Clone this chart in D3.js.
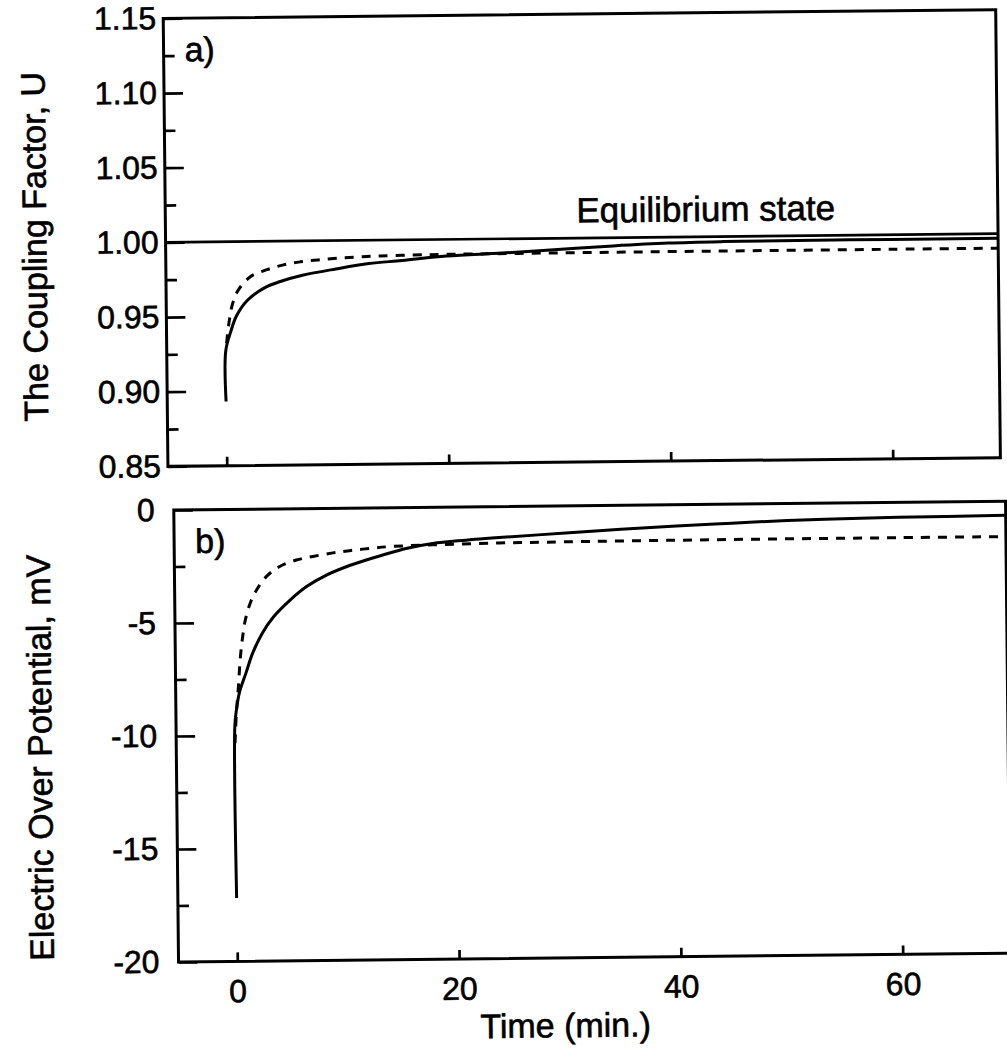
<!DOCTYPE html>
<html>
<head>
<meta charset="utf-8">
<script src="https://cdn.jsdelivr.net/npm/d3@7"></script>
<style>
  html, body { margin: 0; padding: 0; background: #fff; }
  svg { display: block; }
  text { font-family: "Liberation Sans", Arial, Helvetica, sans-serif; fill: #000; stroke: #000; stroke-width: 0.6px; }
</style>
</head>
<body>
<svg id="chart" width="1007" height="1055"></svg>
<script>
// ---- time axis (minutes), shared by both panels ----
const timeDomain = [-5.3, 69.7];
const timeTicks = [0, 20, 40, 60];

// ---- panel a) coupling factor U ----
const couplingDomain = [0.85, 1.15];
const couplingTicks = [0.85, 0.90, 0.95, 1.00, 1.05, 1.10, 1.15];
const couplingMinorTicks = [0.875, 0.925, 0.975, 1.025, 1.075, 1.125];
const equilibriumLevel = 1.0;

const couplingSolidTime = [0, 0.02, 0.5, 1.0, 2.0, 3.6, 5.0, 7.0, 10.0, 13.0, 16.0, 20.0, 25.0, 30.0, 35.0, 40.0, 45.0, 50.0, 60.0, 69.7];
const couplingSolidU    = [0.893, 0.927, 0.940, 0.950, 0.9605, 0.969, 0.973, 0.977, 0.981, 0.9844, 0.9862, 0.9889, 0.9905, 0.9925, 0.9945, 0.996, 0.9966, 0.9968, 0.9969, 0.997];

const couplingDashedTime = [0.1, 0.36, 0.7, 1.2, 2.3, 3.8, 5.3, 6.8, 8.4, 10.2, 12.0, 14.0, 17.0, 20.0, 30.0, 40.0, 50.0, 60.0, 69.7];
const couplingDashedU    = [0.932, 0.947, 0.959, 0.9675, 0.9764, 0.981, 0.9841, 0.986, 0.9872, 0.9882, 0.9889, 0.9894, 0.9898, 0.990, 0.9902, 0.9903, 0.9903, 0.9903, 0.9903];

// ---- panel b) electric over potential, mV ----
const potentialDomain = [-20, 0];
const potentialTicks = [0, -5, -10, -15, -20];
const potentialMinorTicks = [-2.5, -7.5, -12.5, -17.5];

const potentialSolidTime = [0, 0, 0.15, 0.45, 1.05, 1.65, 2.55, 3.6, 5.1, 6.6, 8.4, 10.2, 12.0, 13.5, 15.6, 18.0, 21.0, 24.0, 30.0, 35.0, 40.0, 45.0, 50.0, 55.0, 60.0, 69.7];
const potentialSolidMV   = [-17.2, -9.6, -8.9, -8.1, -7.25, -6.4, -5.5, -4.77, -4.04, -3.45, -2.95, -2.59, -2.3, -2.09, -1.81, -1.6, -1.47, -1.37, -1.2, -1.06, -0.94, -0.84, -0.75, -0.70, -0.66, -0.62];

const potentialDashedTime = [0, 0.15, 0.36, 0.54, 0.75, 1.05, 1.5, 2.1, 3.0, 4.2, 5.7, 7.2, 9.0, 10.5, 12.3, 14.1, 18.0, 24.0, 30.0, 40.0, 50.0, 60.0, 69.7];
const potentialDashedMV   = [-10.35, -9.03, -7.85, -6.67, -5.78, -4.89, -4.16, -3.57, -2.98, -2.55, -2.27, -2.12, -1.97, -1.88, -1.79, -1.72, -1.66, -1.61, -1.59, -1.57, -1.56, -1.56, -1.56];

// ---- text ----
const xTitle = "Time (min.)";
const couplingTitle = "The Coupling Factor, U";
const potentialTitle = "Electric Over Potential, mV";
const equilibriumLabel = "Equilibrium state";
const panelLabels = ["a)", "b)"];

const zip = (ts, vs) => ts.map((t, i) => ({ t, v: vs[i] }));

const svg = d3.select("#chart");
// the whole figure sits with a slight counter-clockwise tilt
const fig = svg.append("g").attr("transform", "rotate(-0.6 585 490)");

const FONT = '"Liberation Sans", Arial, Helvetica, sans-serif';
const LW = 2.7;
const TICK_FONT = 32;
const TITLE_FONT = 34;

// scales
const xA = d3.scaleLinear().domain(timeDomain).range([168.2, 1000.7]);
const yA = d3.scaleLinear().domain(couplingDomain).range([462, 14]);
const xB = d3.scaleLinear().domain(timeDomain).range([173.6, 1005.4]);
const yB = d3.scaleLinear().domain(potentialDomain).range([957.7, 505.7]);

function frame(x, y) {
  const [x0, x1] = x.range();
  const [y0, y1] = y.range();
  fig.append("rect")
    .attr("x", x0).attr("y", y1)
    .attr("width", x1 - x0).attr("height", y0 - y1)
    .attr("fill", "none").attr("stroke", "#000").attr("stroke-width", 3);
}

function styleAxis(g) {
  g.attr("font-family", FONT).attr("font-size", TICK_FONT);
  g.select(".domain").remove();
  g.selectAll(".tick line").attr("stroke", "#000").attr("stroke-width", LW);
  g.selectAll(".tick text").attr("fill", "#000");
}

function leftAxis(x, y, major, minor, fmt, pad) {
  const x0 = x.range()[0];
  const gMinor = fig.append("g").attr("transform", `translate(${x0},0)`)
    .call(d3.axisLeft(y).tickValues(minor).tickSize(-11).tickFormat(""));
  styleAxis(gMinor);
  const gMajor = fig.append("g").attr("transform", `translate(${x0},0)`)
    .call(d3.axisLeft(y).tickValues(major).tickSize(-19).tickPadding(pad).tickFormat(fmt));
  styleAxis(gMajor);
}

function bottomAxis(x, y, withLabels) {
  const y0 = y.range()[0];
  const ax = d3.axisBottom(x).tickValues(timeTicks).tickSize(-9).tickPadding(18);
  if (!withLabels) ax.tickFormat("");
  const g = fig.append("g").attr("transform", `translate(0,${y0})`).call(ax);
  styleAxis(g);
}

const curve = d3.curveCatmullRom.alpha(0.5);

function drawSeries(x, y, data, dashed) {
  fig.append("path")
    .datum(data)
    .attr("fill", "none")
    .attr("stroke", "#000")
    .attr("stroke-width", 3)
    .attr("stroke-linejoin", "round")
    .attr("stroke-dasharray", dashed ? "9,8" : null)
    .attr("d", d3.line().x(d => x(d.t)).y(d => y(d.v)).curve(curve));
}

// ---- panel a ----
frame(xA, yA);
leftAxis(xA, yA, couplingTicks, couplingMinorTicks, d3.format(".2f"), 7);
bottomAxis(xA, yA, false);

fig.append("line")
  .attr("x1", xA.range()[0]).attr("x2", xA.range()[1])
  .attr("y1", yA(equilibriumLevel)).attr("y2", yA(equilibriumLevel))
  .attr("stroke", "#000").attr("stroke-width", LW);

drawSeries(xA, yA, zip(couplingSolidTime, couplingSolidU), false);
drawSeries(xA, yA, zip(couplingDashedTime, couplingDashedU), true);

fig.append("text")
  .attr("x", 838).attr("y", yA(equilibriumLevel) - 15.5)
  .attr("text-anchor", "end").attr("font-size", 35)
  .text(equilibriumLabel);

fig.append("text")
  .attr("x", xA.range()[0] + 21).attr("y", 57)
  .attr("font-size", TITLE_FONT)
  .text(panelLabels[0]);

fig.append("text")
  .attr("transform", "translate(49,241) rotate(-90)")
  .attr("text-anchor", "middle").attr("font-size", TITLE_FONT)
  .text(couplingTitle);

// ---- panel b ----
frame(xB, yB);
leftAxis(xB, yB, potentialTicks, potentialMinorTicks, d => String(d), 19);
bottomAxis(xB, yB, true);

drawSeries(xB, yB, zip(potentialSolidTime, potentialSolidMV), false);
drawSeries(xB, yB, zip(potentialDashedTime, potentialDashedMV), true);

fig.append("text")
  .attr("x", xB.range()[0] + 21).attr("y", 549)
  .attr("font-size", TITLE_FONT)
  .text(panelLabels[1]);

fig.append("text")
  .attr("transform", "translate(49,752) rotate(-90)")
  .attr("text-anchor", "middle").attr("font-size", TITLE_FONT)
  .text(potentialTitle);

fig.append("text")
  .attr("x", 560).attr("y", 1037)
  .attr("text-anchor", "middle").attr("font-size", TITLE_FONT)
  .text(xTitle);
</script>
</body>
</html>
